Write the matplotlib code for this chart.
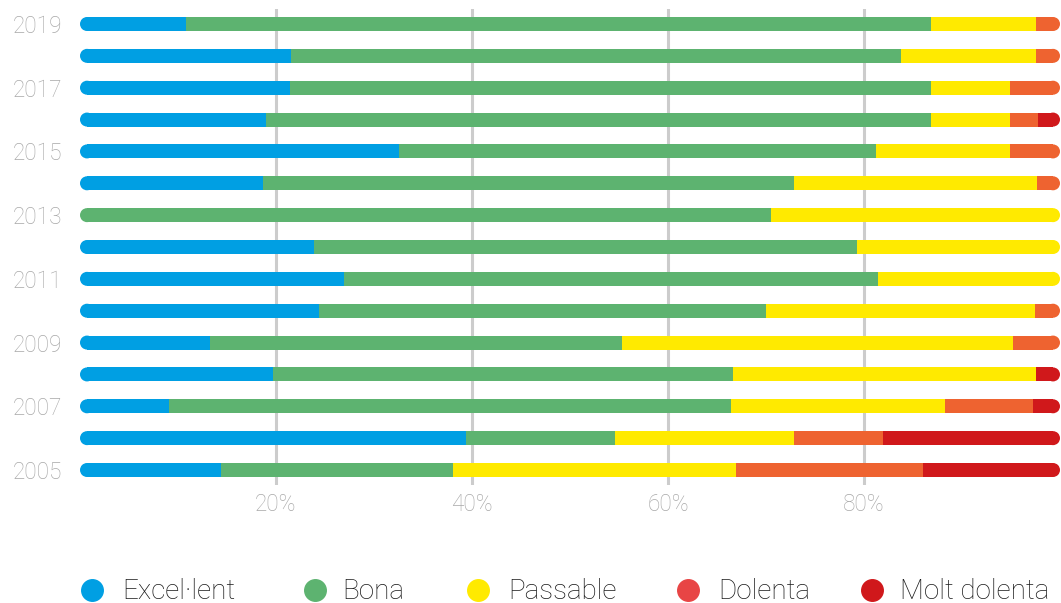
import matplotlib
matplotlib.use("Agg")
import matplotlib.pyplot as plt
from matplotlib.patches import Ellipse
from matplotlib.lines import Line2D

plt.rcParams['font.family'] = ['Roboto', 'DejaVu Sans']

years = [2005, 2006, 2007, 2008, 2009, 2010, 2011, 2012, 2013, 2014, 2015, 2016, 2017, 2018, 2019]
excellent = [14.4, 39.4, 9.1, 19.7, 13.3, 24.4, 26.9, 23.9, 0.0, 18.7, 32.6, 19.0, 21.4, 21.5, 10.8]
bona = [23.7, 15.2, 57.3, 46.9, 42.0, 45.6, 54.5, 55.4, 70.5, 54.2, 48.6, 67.8, 65.4, 62.3, 76.0]
passable = [28.8, 18.3, 21.9, 31.0, 39.9, 27.4, 18.6, 20.7, 29.5, 24.8, 13.7, 8.1, 8.1, 13.8, 10.8]
dolenta = [19.1, 9.0, 8.9, 0.0, 4.8, 2.6, 0.0, 0.0, 0.0, 2.3, 5.1, 2.9, 5.1, 2.4, 2.4]
molt_dolenta = [14.0, 18.1, 2.8, 2.4, 0.0, 0.0, 0.0, 0.0, 0.0, 0.0, 0.0, 2.2, 0.0, 0.0, 0.0]

labels = ['Excel·lent', 'Bona', 'Passable', 'Dolenta', 'Molt dolenta']
series = [excellent, bona, passable, dolenta, molt_dolenta]
colors = ['#009FE3', '#5DB370', '#FFEA00', '#EE6330', '#D0181B']
legend_colors = ['#009FE3', '#5DB370', '#FFEA00', '#E84545', '#D0181B']
tick_years = [2005, 2007, 2009, 2011, 2013, 2015, 2017, 2019]

W, H = 1061, 603
fig = plt.figure(figsize=(W / 100, H / 100), dpi=100)
ax_top, ax_bot = 9, 485
ax = fig.add_axes([80 / W, (H - ax_bot) / H, 980 / W, (ax_bot - ax_top) / H])

ypos = list(range(len(years)))
step = 31.86
pad_units = 15 / step
bar_h = 14 / step
ylo, yhi = -pad_units, len(years) - 1 + pad_units
ax.set_xlim(0, 100)
ax.set_ylim(ylo, yhi)

px_x = 100 / 980.0
px_y = (yhi - ylo) / (ax_bot - ax_top)
r = (bar_h / 2) / px_y * px_x  # cap radius in x data units

for i, y in enumerate(ypos):
    segs = [(s[i], c) for s, c in zip(series, colors) if s[i] > 0]
    left = 0
    for k, (v, c) in enumerate(segs):
        l0, l1 = left, left + v
        if k == 0:
            l0 = left + r
            ax.add_patch(Ellipse((l0, y), 2 * r, bar_h, color=c, linewidth=0, zorder=3))
        if k == len(segs) - 1:
            l1 = left + v - r
            ax.add_patch(Ellipse((l1, y), 2 * r, bar_h, color=c, linewidth=0, zorder=3))
        ax.barh(y, l1 - l0, left=l0, height=bar_h, color=c, linewidth=0, zorder=3)
        left += v

ax.set_xticks([20, 40, 60, 80])
ax.set_xticklabels(['20%', '40%', '60%', '80%'])
ax.set_yticks([years.index(y) for y in tick_years])
ax.set_yticklabels([str(y) for y in tick_years])
ax.grid(axis='x', color='#CCCCCC', linewidth=2.2, zorder=0)
ax.set_axisbelow(True)
for sp in ax.spines.values():
    sp.set_visible(False)
ax.tick_params(axis='both', length=0, colors='#A8A8A8')
ax.tick_params(axis='y', labelsize=16.3, pad=13)
ax.tick_params(axis='x', labelsize=16.3, pad=6)
for t in ax.get_xticklabels() + ax.get_yticklabels():
    t.set_fontweight('light')

marker_x = [92, 315, 478, 688, 872]
text_x = [122, 342, 508, 718, 900]
ly = 590
for mx, tx, lab, c in zip(marker_x, text_x, labels, legend_colors):
    fig.add_artist(Line2D([mx / W], [1 - ly / H], marker='o', linestyle='none',
                          markersize=15.5, markerfacecolor=c, markeredgecolor=c,
                          transform=fig.transFigure))
    fig.text(tx / W, 1 - 599 / H, lab, fontsize=20, color='#1A1A1A',
             fontweight='light', ha='left', va='baseline')

fig.savefig('out.png', dpi=100)
